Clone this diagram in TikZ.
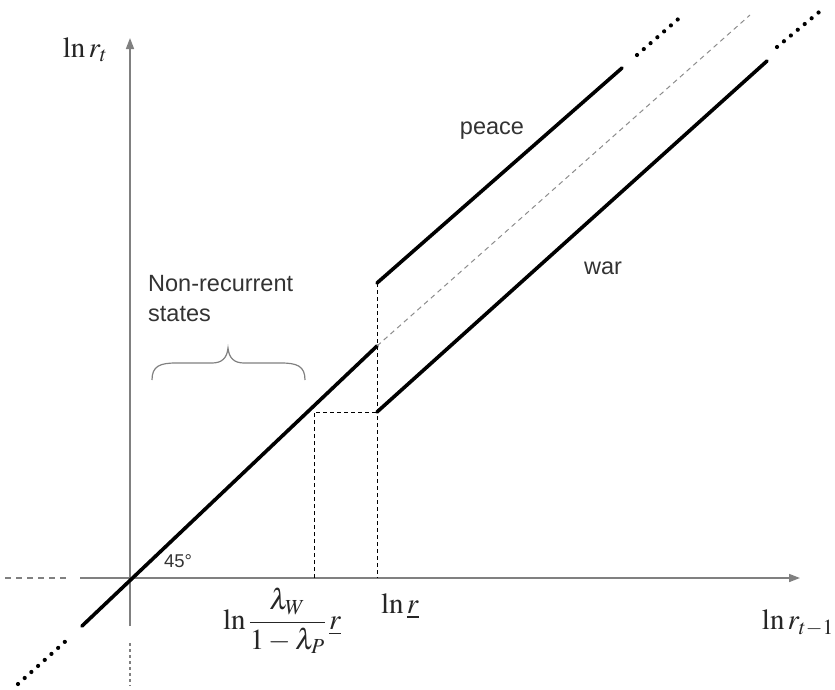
\documentclass[tikz,border=0pt]{standalone}
\usepackage{mathptmx}
\usepackage[no-math]{fontspec}
\setmainfont{Liberation Sans}
\usetikzlibrary{arrows.meta,positioning}

\begin{document}
\begin{tikzpicture}[x=1pt, y=-1pt,
    axis/.style={draw=black!50, line width=1.6pt},
    schedule/.style={line width=3.6pt, line cap=round},
    tail/.style={line width=4.2pt, line cap=round, dash pattern=on 0pt off 9pt},
    guide/.style={line width=1pt, dash pattern=on 4pt off 3pt},
    diag/.style={draw=black!45, line width=1pt, dash pattern=on 5pt off 4pt},
    mlabel/.style={inner sep=0pt, text=black!85, font=\fontsize{29}{34}\selectfont},
    tlabel/.style={inner sep=0pt, text=black!80, font=\fontsize{23.5}{30}\selectfont}]
  \useasboundingbox (0,0) rectangle (835,689);
  \coordinate (O) at (130,578);
  \coordinate (xs) at (80,578);
  \coordinate (xe) at (800,578);
  \coordinate (ys) at (130,626);
  \coordinate (ye) at (130,38);
  \coordinate (rbar) at (377,578);
  \coordinate (rlow) at (314,578);
  \coordinate (kink) at (314,412);
  \coordinate (w0) at (377,412);
  \coordinate (m1) at (377,346);
  \coordinate (p0) at (377,283);
  \draw[axis, dash pattern=on 6pt off 5pt] (5,578) -- (66,578);
  \draw[axis, -{Triangle[length=11pt,width=8pt]}] (xs) -- (xe);
  \draw[axis, dash pattern=on 3pt off 3pt] (130,643) -- (130,686);
  \draw[axis, -{Triangle[length=11pt,width=8pt]}] (ys) -- (ye);
  \draw[schedule] (82,626) -- (m1);
  \draw[tail] (18,684) -- (68,639);
  \draw[diag] (m1) -- (750,15);
  \draw[schedule] (p0) -- (622,68);
  \draw[tail] (637,55) -- (684,14);
  \draw[schedule] (w0) -- (767,61);
  \draw[tail] (777,47) -- (824,8);
  \draw[guide] (p0) -- (rbar);
  \draw[guide] (rlow) -- (kink) -- (w0);
  \draw[draw=black!50, line width=1.2pt] (152,380) .. controls (152,366) and (160,363) .. (176,363)
    -- (212,363) .. controls (222,363) and (227,358) .. (228,348)
    .. controls (229,358) and (234,363) .. (244,363) -- (281,363)
    .. controls (297,363) and (305,366) .. (305,380);
  \node[mlabel] (ylab) at (85,50) {$\ln r_t$};
  \node[mlabel, anchor=east] (xlab) at (834,623) {$\ln r_{t-1}$};
  \node[mlabel] (rlab) at (400,606) {$\ln \underline{r}$};
  \node[mlabel] (klab) at (282,621) {$\displaystyle\ln\frac{\lambda_W}{1-\lambda_P}\,\underline{r}$};
  \node[tlabel, align=left, anchor=north west] (nrs) at (148,275) {Non-recurrent\\states};
  \node[tlabel] (peace) at (492,131) {peace};
  \node[tlabel] (war) at (603,268) {war};
  \node[tlabel, font=\fontsize{18.5}{22}\selectfont] (deg) at (178,561) {45\textdegree};
\end{tikzpicture}
\end{document}
